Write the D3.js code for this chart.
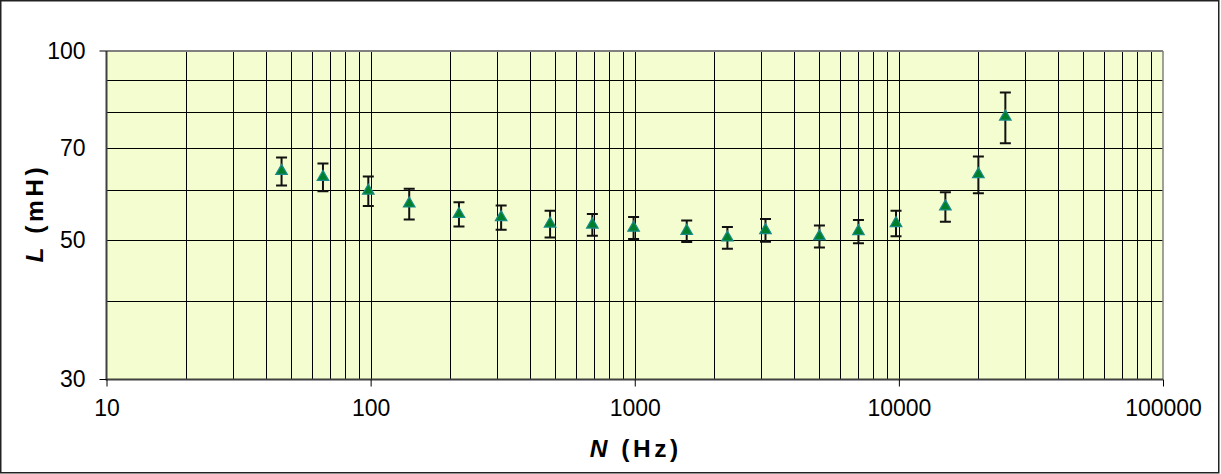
<!DOCTYPE html>
<html>
<head>
<meta charset="utf-8">
<script src="https://cdn.jsdelivr.net/npm/d3@7"></script>
<style>
html,body{margin:0;padding:0;background:#fff;}
svg{display:block;}
text{font-family:"Liberation Sans",Arial,Helvetica,sans-serif;}
</style>
</head>
<body>
<svg id="chart" width="1221" height="474"></svg>
<script>
// Data
const frequencyHz = [46, 66, 98, 140, 216, 312, 478, 691, 990, 1573, 2243, 3126, 5003, 7030, 9754, 15000, 20000, 25300];
const inductanceMH = [64.4, 63.0, 59.9, 57.15, 55.0, 54.35, 53.1, 52.9, 52.3, 51.7, 50.45, 51.85, 50.7, 51.65, 53.2, 56.55, 63.65, 78.6];
const errorMH = [3.3, 3.2, 3.25, 3.2, 2.45, 2.4, 2.6, 2.1, 2.1, 2.05, 2.0, 2.15, 2.05, 2.2, 2.5, 3.05, 4.3, 7.3];
const xTickLabels = [10, 100, 1000, 10000, 100000];
const yTickLabels = [30, 50, 70, 100];
const yGridValues = [30, 40, 50, 60, 70, 80, 90, 100];

(function () {
const svg = d3.select("#chart");
const pL = 106.5, pR = 1163, pT = 51, pB = 379.5;

const x = d3.scaleLog().domain([10, 100000]).range([pL, pR]);
const y = d3.scaleLog().domain([30, 100]).range([pB, pT]);

// outer frame
svg.append("rect").attr("x", 0.75).attr("y", 0.75).attr("width", 1218).attr("height", 472)
  .attr("fill", "#fff").attr("stroke", "#222").attr("stroke-width", 1.5);

// plot background
svg.append("rect").attr("x", pL).attr("y", pT).attr("width", pR - pL).attr("height", pB - pT)
  .attr("fill", "#f4fdcf");

// vertical gridlines: 1..9 x each decade
const xGrid = [];
for (let d = 10; d < 100000; d *= 10) for (let k = 1; k <= 9; k++) xGrid.push(d * k);
svg.append("g").selectAll("line").data(xGrid.filter(v => v > 10 && v < 100000)).join("line")
  .attr("x1", d => Math.round(x(d)) + 0.5).attr("x2", d => Math.round(x(d)) + 0.5)
  .attr("y1", pT).attr("y2", pB).attr("stroke", "#000").attr("stroke-width", 1);

// horizontal gridlines
svg.append("g").selectAll("line").data(yGridValues.filter(v => v > 30 && v < 100)).join("line")
  .attr("x1", pL).attr("x2", pR)
  .attr("y1", d => Math.round(y(d)) + 0.5).attr("y2", d => Math.round(y(d)) + 0.5)
  .attr("stroke", "#000").attr("stroke-width", 1);

// plot border
svg.append("line").attr("x1", pL).attr("x2", pR).attr("y1", pT).attr("y2", pT).attr("stroke", "#808080").attr("stroke-width", 2);
svg.append("line").attr("x1", pR).attr("x2", pR).attr("y1", pT).attr("y2", pB).attr("stroke", "#808080").attr("stroke-width", 1.5);
svg.append("line").attr("x1", pL).attr("x2", pL).attr("y1", pT).attr("y2", pB + 1).attr("stroke", "#404040").attr("stroke-width", 2);
svg.append("line").attr("x1", pL).attr("x2", pR).attr("y1", pB).attr("y2", pB).attr("stroke", "#404040").attr("stroke-width", 2);

// x axis ticks & labels
const xAxis = d3.axisBottom(x).tickValues(xTickLabels).tickFormat(d3.format("d")).tickSize(7).tickPadding(13);
const gx = svg.append("g").attr("transform", `translate(0,${pB})`).call(xAxis);
gx.select(".domain").remove();
gx.selectAll(".tick line").attr("stroke", "#000").attr("stroke-width", 1);
gx.selectAll(".tick text").attr("font-size", 23).attr("fill", "#000")
  .attr("font-family", "'Liberation Sans', Arial, sans-serif");

// y axis labels
const yAxis = d3.axisLeft(y).tickValues(yTickLabels).tickFormat(d3.format("d")).tickSize(0).tickPadding(21);
const gy = svg.append("g").attr("transform", `translate(${pL},0)`).call(yAxis);
gy.select(".domain").remove();
gy.selectAll(".tick text").attr("font-size", 23).attr("fill", "#000")
  .attr("font-family", "'Liberation Sans', Arial, sans-serif");
svg.append("g").selectAll("line").data([30, 100]).join("line")
  .attr("x1", pL - 7).attr("x2", pL).attr("y1", d => y(d)).attr("y2", d => y(d))
  .attr("stroke", "#000").attr("stroke-width", 1);

// error bars
const pts = frequencyHz.map((f, i) => ({f, v: inductanceMH[i], e: errorMH[i]}));
const eb = svg.append("g").attr("stroke", "#111").attr("stroke-width", 2).attr("fill", "none");
eb.selectAll("path").data(pts).join("path")
  .attr("d", d => {
    const cx = x(d.f), y1 = y(d.v + d.e), y2 = y(d.v - d.e), w = 5.5;
    return `M${cx - w},${y1}H${cx + w}M${cx},${y1}V${y2}M${cx - w},${y2}H${cx + w}`;
  });

// markers
svg.append("g").selectAll("path").data(pts).join("path")
  .attr("transform", d => `translate(${x(d.f)},${y(d.v)})`)
  .attr("d", d3.symbol().type(d3.symbolTriangle).size(58))
  .attr("fill", "#007f2a").attr("stroke", "#1a8a8a").attr("stroke-width", 1.2);

// axis titles
const xt = svg.append("text").attr("x", (pL + pR) / 2 + 1).attr("y", 457).attr("text-anchor", "middle")
  .attr("font-size", 24.5).attr("font-weight", "bold").attr("letter-spacing", 3.5).attr("fill", "#000");
xt.append("tspan").attr("font-style", "italic").text("N");
xt.append("tspan").text("\u00a0(Hz)");

const yt = svg.append("text").attr("transform", `translate(43,${(pT + pB) / 2 - 2}) rotate(-90)`)
  .attr("text-anchor", "middle").attr("font-size", 24.5).attr("font-weight", "bold").attr("letter-spacing", 3.5).attr("fill", "#000");
yt.append("tspan").attr("font-style", "italic").text("L");
yt.append("tspan").text("\u00a0(mH)");
})();
</script>
</body>
</html>
